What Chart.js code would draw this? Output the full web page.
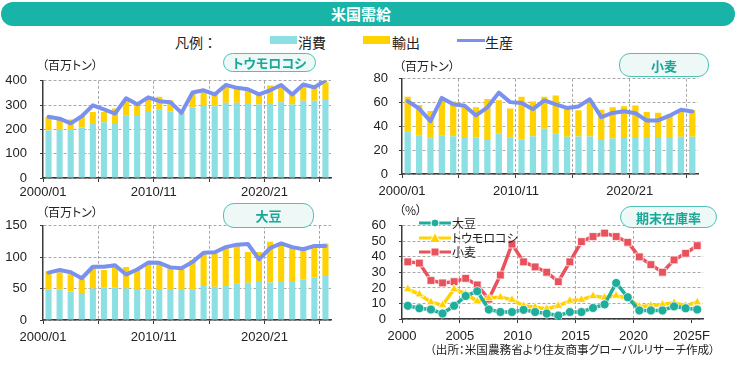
<!DOCTYPE html>
<html lang="ja">
<head>
<meta charset="utf-8">
<script src="https://cdn.jsdelivr.net/npm/chart.js@4.4.1/dist/chart.umd.min.js"></script>
<style>
  html, body { margin: 0; padding: 0; background: #fff; }
  #page {
    position: relative; width: 736px; height: 367px; overflow: hidden;
    font-family: "Noto Sans CJK JP", sans-serif; color: #222;
    font-feature-settings: "palt" 1;
  }
  #page > * { position: absolute; }
  canvas { position: absolute; }
  #title {
    left: 1px; top: 2px; width: 734px; height: 24px; border-radius: 12px;
    background: #17B4A7; color: #fff; font-weight: bold; font-size: 15px;
    line-height: 24px; text-align: center; padding-right: 14px; box-sizing: border-box;
  }
  .lg { top: 32px; height: 20px; line-height: 20px; font-size: 14px; }
  .pill {
    border: 1.5px solid #4BC3B5; background: #EEF8F6; color: #17A898;
    border-radius: 11px; font-weight: bold; font-size: 13px; box-sizing: border-box;
    display: flex; align-items: center; justify-content: center; z-index: 2;
  }
  .unit { font-size: 12px; line-height: 14px; z-index: 2; }
  .slg { left: 419px; height: 14px; font-size: 12px; line-height: 14px; z-index: 2; display: flex; align-items: center; }
  .slg svg { margin-right: 1px; }
  #note { left: 430px; top: 342px; font-size: 11.6px; line-height: 15px; white-space: nowrap; }
</style>
</head>
<body>
<div id="page">
  <div id="title">米国需給</div>

  <div class="lg" style="left:175px; font-feature-settings: normal">凡例：</div>
  <div style="left:270px; top:36px; width:27px; height:8px; background:#8CDFE3"></div>
  <div class="lg" style="left:298px">消費</div>
  <div style="left:363px; top:36px; width:27px; height:8px; background:#FFD200"></div>
  <div class="lg" style="left:392px">輸出</div>
  <div style="left:457px; top:39px; width:28px; height:3px; background:#7A91F0"></div>
  <div class="lg" style="left:485px">生産</div>

  <canvas id="cornChart" width="345" height="142" style="left:0; top:60px"></canvas>
  <canvas id="wheatChart" width="376" height="142" style="left:360px; top:60px"></canvas>
  <canvas id="soyChart" width="345" height="145" style="left:0; top:205px"></canvas>
  <canvas id="stockChart" width="376" height="145" style="left:360px; top:205px"></canvas>

  <div class="unit" style="left:42px; top:58px">（百万トン）</div>
  <div class="unit" style="left:399px; top:59px">（百万トン）</div>
  <div class="unit" style="left:42px; top:205px">（百万トン）</div>
  <div class="unit" style="left:399px; top:203px">（%）</div>

  <div class="pill" style="left:223px; top:53px; width:93px; height:19px">トウモロコシ</div>
  <div class="pill" style="left:619px; top:53px; width:90px; height:24px">小麦</div>
  <div class="pill" style="left:223px; top:203px; width:91px; height:25px">大豆</div>
  <div class="pill" style="left:620px; top:206px; width:97px; height:22px">期末在庫率</div>

  <div class="slg" style="top:216px">
    <svg width="32" height="12"><line x1="0" y1="6" x2="32" y2="6" stroke="#1FAE9C" stroke-width="3"/><circle cx="16" cy="6" r="4" fill="#1FAE9C" stroke="#fff" stroke-width="1"/></svg>大豆</div>
  <div class="slg" style="top:231px">
    <svg width="32" height="12"><line x1="0" y1="6" x2="32" y2="6" stroke="#FFD200" stroke-width="3"/><polygon points="16,0.5 21.5,10.5 10.5,10.5" fill="#FFD200" stroke="#fff" stroke-width="1"/></svg>トウモロコシ</div>
  <div class="slg" style="top:245px">
    <svg width="32" height="12"><line x1="0" y1="6" x2="32" y2="6" stroke="#E9525C" stroke-width="3"/><rect x="12" y="2" width="8" height="8" fill="#E9525C" stroke="#fff" stroke-width="1"/></svg>小麦</div>

  <div id="note">（出所：米国農務省より住友商事グローバルリサーチ作成）</div>
</div>

<script>
// ===== DATA =====
const seasons = ['2000/01', '2001/02', '2002/03', '2003/04', '2004/05', '2005/06', '2006/07',
  '2007/08', '2008/09', '2009/10', '2010/11', '2011/12', '2012/13', '2013/14', '2014/15',
  '2015/16', '2016/17', '2017/18', '2018/19', '2019/20', '2020/21', '2021/22', '2022/23',
  '2023/24', '2024/25', '2025/26'];
const seasonTicks = ['2000/01', '2010/11', '2020/21'];

// トウモロコシ (百万トン)
const cornConsumption = [195, 198, 198, 208, 222, 229, 226, 258, 255, 276, 281, 274, 263,
  290, 300, 295, 310, 310, 305, 302, 305, 312, 302, 318, 318, 321];
const cornExports = [55, 51, 43, 49, 50, 43, 60, 62, 48, 48, 53, 45, 9,
  56, 53, 51, 70, 62, 58, 45, 76, 69, 51, 66, 64, 73];
const cornProduction = [252, 244, 225, 254, 299, 282, 265, 328, 303, 332, 316, 312, 268,
  352, 361, 344, 383, 371, 365, 344, 361, 383, 344, 385, 373, 402];

// 小麦 (百万トン)
const wheatConsumption = [35.5, 32.5, 30, 32.5, 31.8, 31, 30.6, 28.6, 34.2, 30.8, 29.2, 31.8, 38,
  34.3, 31.3, 31.6, 31.6, 29.4, 29.9, 30.3, 30.3, 30.2, 30.2, 30.2, 31.3, 31.3];
const wheatExports = [29.5, 25.5, 23, 31.5, 29.2, 26, 25.4, 34.4, 27.8, 24.2, 35.8, 29.2, 27,
  31.7, 23.7, 21.9, 30.4, 24.6, 26.1, 26.7, 27.2, 21.8, 21.3, 19.8, 21.7, 22.2];
const wheatProduction = [61.2, 55, 44.4, 63.9, 58.7, 57.3, 49.2, 55.9, 68.4, 60.4, 59.7, 54.5, 61.8,
  58.5, 55.5, 56.8, 62.8, 47.8, 51.3, 52.8, 51, 45, 45, 49, 54, 52.5];

// 大豆 (百万トン)
const soyConsumption = [48, 49, 45.5, 42.8, 50, 51.5, 51.5, 50, 47.6, 49, 47.6, 47.6, 47.6,
  49, 54, 53, 54, 57.6, 59.5, 60.7, 59.8, 62, 62, 64.8, 67.6, 70];
const soyExports = [29.6, 27, 27.5, 23, 33.5, 28.2, 34, 34.3, 32.4, 40.3, 41.4, 37.9, 36.2,
  46.5, 53, 55.7, 61.7, 61.9, 48.8, 47.6, 64.8, 57.5, 52.7, 49, 51.2, 52];
const soyProduction = [75.5, 79.5, 76, 66.5, 84.8, 84.8, 87.3, 72.3, 80.5, 91.4, 91, 83.8, 82.5,
  92.5, 107, 107.8, 116, 120, 121, 96.5, 114.5, 122, 116, 112.7, 118, 118];

// 期末在庫率 (%)
const stockYears = ['2000', '2001', '2002', '2003', '2004', '2005', '2006', '2007', '2008',
  '2009', '2010', '2011', '2012', '2013', '2014', '2015', '2016', '2017', '2018', '2019',
  '2020', '2021', '2022', '2023', '2024', '2025F'];
const stockTicks = ['2000', '2005', '2010', '2015', '2020', '2025F'];
const soyStocks = [8.5, 6.9, 6.1, 3.5, 8.5, 14.8, 17.9, 6.1, 4.5, 4.5, 5.9, 4.5, 3.5,
  2.2, 4.5, 4.5, 7.1, 9.4, 23.2, 14, 5.5, 5.5, 5.5, 8.1, 6.9, 6.1];
const cornStocks = [19.3, 15.9, 10.8, 8.9, 19.3, 16.3, 11.4, 13.5, 14, 12.4, 8.5, 7.5, 6.5,
  8.5, 11.8, 12.4, 14.8, 13.8, 15, 13.4, 8.1, 8.5, 9.3, 10.4, 8.5, 10.8];
const wheatStocks = [36.8, 36, 24.8, 23.2, 24, 26.2, 21.9, 12.8, 28.3, 48.2, 36.8, 33.5, 30.1,
  24, 36.8, 49.8, 53.1, 55.3, 53.1, 49.4, 40, 35, 30.1, 38, 42.3, 47.2];

// ===== STYLE =====
const CYAN = '#8CDFE3';
const YELLOW = '#FFD200';
const BLUE = '#7A91F0';
const TEAL = '#1FAE9C';
const RED = '#E9525C';
const GRID = '#A8A8A8';
const AXIS = '#3A3A3A';

Chart.defaults.font.family = '"Liberation Sans", Arial, sans-serif';
Chart.defaults.font.size = 13;
Chart.defaults.color = '#222';

// gridline / tick only on every 5th category boundary
function fifthLine(color, last) {
    return ctx => (ctx.index > 0 && ctx.index % 5 === 0 && ctx.index <= last) ? color : 'rgba(0,0,0,0)';
}
function fifthTick(color) {
    return ctx => (ctx.index !== undefined && ctx.index % 5 === 0) ? color : 'rgba(0,0,0,0)';
}

function xAxis(shown, box, lastGrid) {
    return {
        stacked: true,
        offset: true,
        grid: {
            offset: true,
            color: fifthLine(GRID, lastGrid),
            tickColor: fifthTick(AXIS),
            tickLength: 4
        },
        border: { color: AXIS, width: 1.5, dash: [3, 2] },
        ticks: {
            autoSkip: false,
            maxRotation: 0,
            minRotation: 0,
            labelOffset: box.labelOffset,
            padding: box.xPad,
            callback: function (value) {
                const label = this.getLabelForValue(value);
                return shown.includes(label) ? label : '';
            }
        },
        afterFit: scale => { scale.height = box.xHeight; }
    };
}

function yAxis(max, step, box, stacked) {
    return {
        stacked: stacked,
        min: 0,
        max: max,
        ticks: { stepSize: step, padding: box.yPad, autoSkip: false },
        grid: { color: GRID, tickColor: AXIS, tickLength: 3 },
        border: { color: AXIS, width: 1.5, dash: [3, 2] },
        afterFit: scale => { scale.width = box.yWidth; }
    };
}

// ===== SUPPLY CHARTS =====
function makeSupplyChart(id, consumption, exportsData, production, yMax, yStep, box) {
    const ctx = document.getElementById(id);
    return new Chart(ctx, {
        type: 'bar',
        data: {
            labels: seasons,
            datasets: [{
                label: '消費',
                data: consumption,
                backgroundColor: CYAN,
                stack: 'bars',
                order: 2,
                barPercentage: 0.55,
                categoryPercentage: 1
            }, {
                label: '輸出',
                data: exportsData,
                backgroundColor: YELLOW,
                stack: 'bars',
                order: 2,
                barPercentage: 0.55,
                categoryPercentage: 1
            }, {
                type: 'line',
                label: '生産',
                data: production,
                borderColor: BLUE,
                borderWidth: 4,
                pointRadius: 0,
                tension: 0,
                borderJoinStyle: 'round',
                borderCapStyle: 'round',
                stack: 'line',
                order: 1
            }]
        },
        options: {
            responsive: false,
            animation: false,
            layout: { padding: { top: box.top, right: box.right, left: 0, bottom: 0 } },
            plugins: { legend: { display: false }, tooltip: { enabled: false } },
            scales: {
                x: xAxis(seasonTicks, box, 25),
                y: yAxis(yMax, yStep, box, true)
            }
        }
    });
}

makeSupplyChart('cornChart', cornConsumption, cornExports, cornProduction, 400, 100,
    { top: 20, right: 14, xHeight: 24, yWidth: 43, yPad: 13, xPad: 3, labelOffset: -5.5 });
makeSupplyChart('wheatChart', wheatConsumption, wheatExports, wheatProduction, 80, 20,
    { top: 16, right: 38, xHeight: 28, yWidth: 42, yPad: 11, xPad: 6, labelOffset: -5.6 });
makeSupplyChart('soyChart', soyConsumption, soyExports, soyProduction, 150, 50,
    { top: 17, right: 14, xHeight: 30, yWidth: 43, yPad: 13, xPad: 6, labelOffset: -5.5 });

// ===== STOCK RATIO CHART =====
function stockLine(label, data, color, style, radius) {
    return {
        label: label,
        data: data,
        borderColor: color,
        backgroundColor: color,
        borderWidth: 3.5,
        pointStyle: style,
        pointRadius: radius,
        pointBorderColor: 'rgba(255,255,255,0.7)',
        pointBorderWidth: 1,
        tension: 0
    };
}

const stockBox = { top: 13, right: 33, xHeight: 31, yWidth: 42, yPad: 13, xPad: 6, labelOffset: -5.8 };
new Chart(document.getElementById('stockChart'), {
    type: 'line',
    data: {
        labels: stockYears,
        datasets: [
            stockLine('大豆', soyStocks, TEAL, 'circle', 4.5),
            stockLine('トウモロコシ', cornStocks, YELLOW, 'triangle', 5),
            stockLine('小麦', wheatStocks, RED, 'rect', 5.5)
        ]
    },
    options: {
        responsive: false,
        animation: false,
        layout: { padding: { top: stockBox.top, right: stockBox.right, left: 0, bottom: 0 } },
        plugins: { legend: { display: false }, tooltip: { enabled: false } },
        scales: {
            x: xAxis(stockTicks, stockBox, 20),
            y: yAxis(60, 10, stockBox, false)
        }
    }
});
</script>
</body>
</html>
